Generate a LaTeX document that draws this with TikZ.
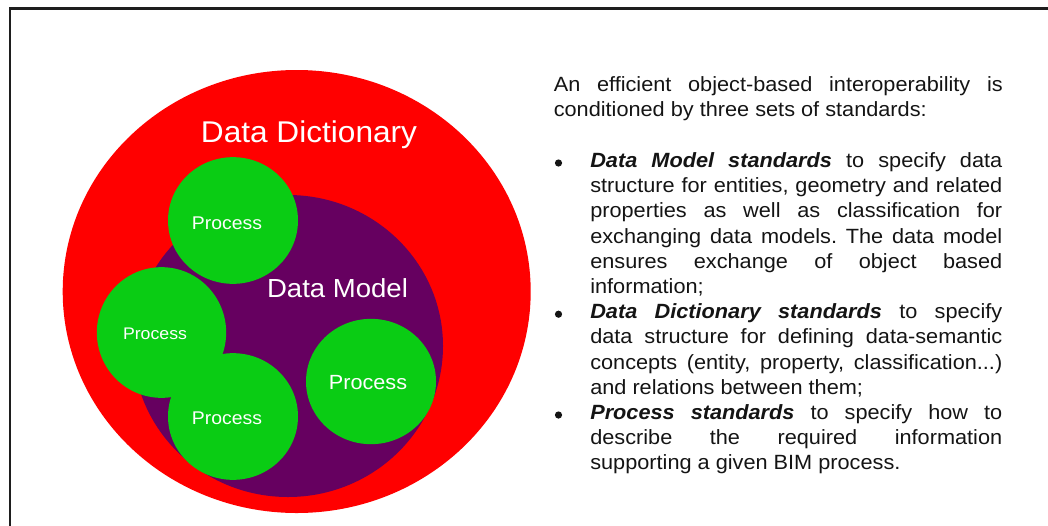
\documentclass[tikz,border=0pt]{standalone}
\usepackage{fontspec}
\setmainfont{Liberation Sans}[FakeStretch=1.054]
\usetikzlibrary{shapes.geometric}
\definecolor{ddred}{RGB}{255,0,0}
\definecolor{dmpurple}{RGB}{102,0,96}
\definecolor{prgreen}{RGB}{10,204,20}
\definecolor{framecol}{RGB}{30,30,30}
\definecolor{txtcol}{RGB}{20,20,20}
\newcommand\justA[1]{\makebox[336.75pt][s]{#1}}
\newcommand\justB[1]{\makebox[309pt][s]{#1}}
\newcommand\bfit[1]{\textbf{\textit{#1}}}
\frenchspacing
\begin{document}
\begin{tikzpicture}[x=0.75pt,y=-0.75pt,
  blob/.style={ellipse, inner sep=0pt, draw=none},
  lab/.style={anchor=base, inner sep=0pt, text=white},
  body/.style={anchor=base west, inner sep=0pt, text=txtcol, font=\fontsize{15.45pt}{18.9pt}\selectfont},
  bulletdot/.style={circle, fill=txtcol, minimum size=5.4pt, inner sep=0pt},
  frameline/.style={draw=framecol, line width=1.8pt}]
\useasboundingbox (0,0) rectangle (1048,525);
% frame
\coordinate (fb) at (10,526);
\coordinate (fc) at (10,8.5);
\coordinate (fr) at (1049,8.5);
\draw[frameline] (fb) -- (fc) -- (fr);
% circles
\node[blob, fill=ddred, minimum width=351pt, minimum height=332.25pt] (dict) at (296.7,291.5) {};
\node[blob, fill=dmpurple, minimum width=232.5pt, minimum height=226.5pt] (model) at (288,346) {};
\node[blob, fill=prgreen, minimum width=97.5pt, minimum height=95pt] (p1) at (233,220.5) {};
\node[blob, fill=prgreen, minimum width=97pt, minimum height=98pt] (p2) at (161.5,332.5) {};
\node[blob, fill=prgreen, minimum width=97.5pt, minimum height=95pt] (p3) at (233,416.5) {};
\node[blob, fill=prgreen, minimum width=97.5pt, minimum height=94pt] (p4) at (371,381.5) {};
% labels
\node[lab, font=\fontsize{22.5pt}{27pt}\selectfont] (tdict) at (309,142.5) {Data Dictionary};
\node[lab, font=\fontsize{19.6pt}{24pt}\selectfont] (tmodel) at (337.5,297.5) {Data Model};
\node[lab, font=\fontsize{13.8pt}{16pt}\selectfont] (t1) at (227,229) {Process};
\node[lab, font=\fontsize{12.6pt}{15pt}\selectfont] (t2) at (155,339.3) {Process};
\node[lab, font=\fontsize{13.8pt}{16pt}\selectfont] (t3) at (227,424.3) {Process};
\node[lab, font=\fontsize{15.4pt}{18pt}\selectfont] (t4) at (368,389.3) {Process};
% text
\node[body] (l1) at (553.5,91.7) {\justA{An efficient object-based interoperability is}};
\node[body] (l2) at (553.5,116.9) {conditioned by three sets of standards:};
\node[bulletdot] (b1) at (558.5,163) {};
\node[body] (l3) at (590,167.5) {\justB{\bfit{Data Model standards} to specify data}};
\node[body] (l4) at (590,192.7) {\justB{structure for entities, geometry and related}};
\node[body] (l5) at (590,217.9) {\justB{properties as well as classification for}};
\node[body] (l6) at (590,243.1) {\justB{exchanging data models. The data model}};
\node[body] (l7) at (590,268.3) {\justB{ensures exchange of object based}};
\node[body] (l8) at (590,293.5) {information;};
\node[bulletdot] (b2) at (558.5,314.2) {};
\node[body] (l9) at (590,318.7) {\justB{\bfit{Data Dictionary standards} to specify}};
\node[body] (l10) at (590,343.9) {\justB{data structure for defining data-semantic}};
\node[body] (l11) at (590,369.1) {\justB{concepts (entity, property, classification...)}};
\node[body] (l12) at (590,394.3) {and relations between them;};
\node[bulletdot] (b3) at (558.5,415) {};
\node[body] (l13) at (590,419.5) {\justB{\bfit{Process standards} to specify how to}};
\node[body] (l14) at (590,444.7) {\justB{describe the required information}};
\node[body] (l15) at (590,469.9) {supporting a given BIM process.};
\end{tikzpicture}
\end{document}
